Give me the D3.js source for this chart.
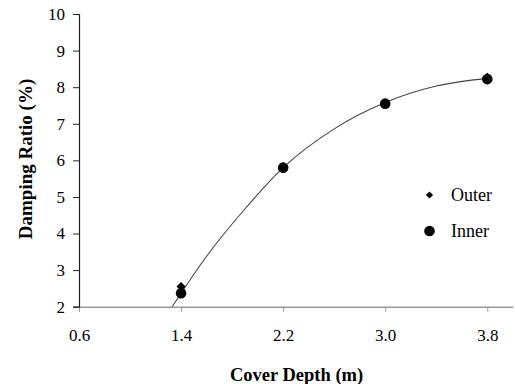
<!DOCTYPE html>
<html>
<head>
<meta charset="utf-8">
<script src="https://cdn.jsdelivr.net/npm/d3@7"></script>
<style>
  html, body { margin: 0; padding: 0; background: #fff; }
  svg { display: block; }
  svg text { font-family: "Liberation Serif", "Times New Roman", serif; fill: #000; }
  .tick text { font-size: 17px; }
  .legend text { font-size: 18px; }
  .title { font-size: 18.5px; font-weight: bold; }
</style>
</head>
<body>
<svg id="chart" width="515" height="384"></svg>
<script>
// ---- Data ----
const depths = [1.4, 2.2, 3.0, 3.8];
const outerValues = [2.55, 5.82, 7.57, 8.27];
const innerValues = [2.37, 5.80, 7.55, 8.22];
// trend curve
const trendX = [1.33, 1.6, 1.9, 2.2, 2.6, 3.0, 3.4, 3.8];
const trendY = [2.0, 3.38, 4.67, 5.8, 6.86, 7.58, 8.03, 8.24];
const xTicks = [0.6, 1.4, 2.2, 3.0, 3.8];
const yTicks = [2, 3, 4, 5, 6, 7, 8, 9, 10];
const seriesNames = ["Outer", "Inner"];

const svg = d3.select("#chart");
const x = d3.scaleLinear().domain([0.6, 4.0]).range([79, 512.8]);
const y = d3.scaleLinear().domain([2, 10]).range([306.7, 14]);

// clip
svg.append("clipPath").attr("id", "plotclip")
  .append("rect").attr("x", 79).attr("y", 0).attr("width", 440).attr("height", 306.7);

// axes
const xAxis = svg.append("g").attr("transform", `translate(0,${y(2)})`)
  .call(d3.axisBottom(x).tickValues(xTicks).tickSize(5).tickSizeOuter(0).tickPadding(17).tickFormat(d3.format(".1f")));
xAxis.attr("font-family", null).attr("font-size", null);
xAxis.select(".domain").attr("stroke", "#999").attr("stroke-width", 1.5);
xAxis.selectAll(".tick line").attr("stroke", "#999");

const yAxis = svg.append("g").attr("transform", `translate(${x(0.6)},0)`)
  .call(d3.axisLeft(y).tickValues(yTicks).tickSize(6).tickPadding(8).tickFormat(d3.format("d")));
yAxis.attr("font-family", null).attr("font-size", null);
yAxis.select(".domain").attr("stroke", "#222").attr("stroke-width", 1.2);
yAxis.selectAll(".tick line").attr("stroke", "#222");

// trend line
const trend = trendX.map((d, i) => [d, trendY[i]]);
svg.append("path")
  .attr("clip-path", "url(#plotclip)")
  .attr("d", d3.line().x(d => x(d[0])).y(d => y(d[1])).curve(d3.curveMonotoneX)(trend))
  .attr("fill", "none").attr("stroke", "#444").attr("stroke-width", 1.1);

// markers
const diamond = d3.symbol().type(d3.symbolSquare).size(42);
const diamondLeg = d3.symbol().type(d3.symbolSquare).size(26);

svg.append("g").selectAll("path").data(depths.map((d, i) => [d, outerValues[i]]))
  .join("path")
  .attr("transform", d => `translate(${x(d[0])},${y(d[1])}) rotate(45)`)
  .attr("d", diamond).attr("fill", "#000");

svg.append("g").selectAll("circle").data(depths.map((d, i) => [d, innerValues[i]]))
  .join("circle")
  .attr("cx", d => x(d[0])).attr("cy", d => y(d[1])).attr("r", 5.3).attr("fill", "#000");

// legend
const leg = svg.append("g").attr("class", "legend");
leg.append("path").attr("transform", "translate(429.5,195) rotate(45)").attr("d", diamondLeg).attr("fill", "#000");
leg.append("circle").attr("cx", 429.5).attr("cy", 231).attr("r", 5.3).attr("fill", "#000");
leg.append("text").attr("x", 451).attr("y", 201).text(seriesNames[0]);
leg.append("text").attr("x", 451).attr("y", 237).text(seriesNames[1]);

// axis titles
svg.append("text").attr("class", "title").attr("x", 296.5).attr("y", 381).attr("text-anchor", "middle")
  .text("Cover Depth (m)");
svg.append("text").attr("class", "title").attr("transform", "translate(32,159) rotate(-90)").attr("text-anchor", "middle")
  .style("font-size", "19px")
  .text("Damping Ratio (%)");
</script>
</body>
</html>
